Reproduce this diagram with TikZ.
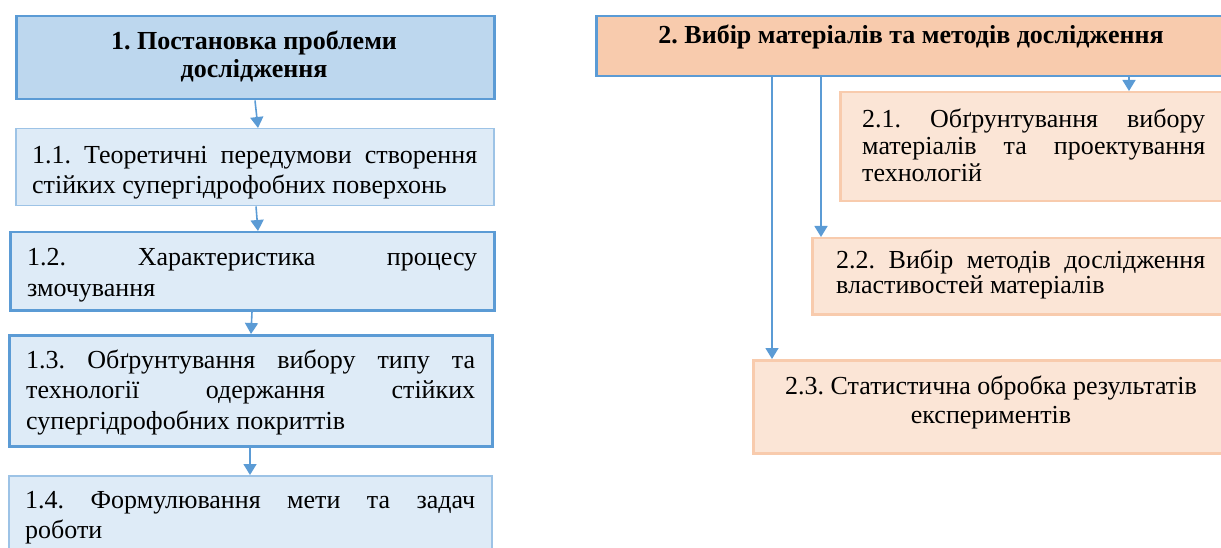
\documentclass[tikz,border=0pt]{standalone}
\usepackage{fontspec}
\setmainfont{Liberation Serif}
\usetikzlibrary{arrows.meta}
\definecolor{bluebd}{HTML}{5B9BD5}
\definecolor{bluelt}{HTML}{9DC3E6}
\definecolor{bluefillA}{HTML}{BDD7EE}
\definecolor{bluefillB}{HTML}{DEEBF7}
\definecolor{orfillA}{HTML}{F8CBAD}
\definecolor{orfillB}{HTML}{FBE5D6}
\definecolor{orbd}{HTML}{F8CBAD}
\tikzset{
  boxbase/.style={rectangle, inner sep=0pt, anchor=north west},
  headblue/.style={boxbase, fill=bluefillA, draw=bluebd, line width=2.5pt},
  subblueA/.style={boxbase, fill=bluefillB, draw=bluelt, line width=1.5pt},
  subblueB/.style={boxbase, fill=bluefillB, draw=bluebd, line width=2.5pt},
  heador/.style={boxbase, fill=orfillA, draw=bluebd, line width=2.5pt},
  subor/.style={boxbase, fill=orfillB, draw=orbd, line width=2.5pt},
  txt/.style={inner sep=0pt, align=left, anchor=base west, text=black},
  conn/.style={draw=bluebd, line width=1.6pt, -{Triangle[width=13pt,length=11pt]}},
}
\newcommand{\jl}[2]{\makebox[#1][s]{#2}}
\begin{document}
\frenchspacing
\begin{tikzpicture}[x=1pt,y=-1pt]
\useasboundingbox (0,0) rectangle (1221,548);
\clip (0,0) rectangle (1221,548);
% boxes
\node[headblue, minimum width=478pt, minimum height=83pt] (n1) at (15,15) {};
\node[subblueA, minimum width=478pt, minimum height=77pt] (n11) at (15,128) {};
\node[subblueB, minimum width=484pt, minimum height=78pt] (n12) at (9,231) {};
\node[subblueB, minimum width=483pt, minimum height=111pt] (n13) at (8,334) {};
\node[subblueA, minimum width=483pt, minimum height=90pt] (n14) at (8,475) {};
\node[heador, minimum width=650pt, minimum height=60pt] (n2) at (595,15) {};
\node[subor, minimum width=400pt, minimum height=109pt] (n21) at (839,91) {};
\node[subor, minimum width=430pt, minimum height=76pt] (n22) at (811,237) {};
\node[subor, minimum width=490pt, minimum height=93pt] (n23) at (752,359) {};
% texts (base anchor = baseline of last line)
\node[txt, align=center, anchor=base, font=\fontsize{26}{28}\selectfont\bfseries] (t1) at (254,78) {1. Постановка проблеми\\дослідження};
\node[txt, font=\fontsize{26}{30}\selectfont] (t11) at (32,194) {\jl{445pt}{1.1. Теоретичні передумови створення}\\стійких супергідрофобних поверхонь};
\node[txt, font=\fontsize{26}{31}\selectfont] (t12) at (27,296) {\jl{450pt}{1.2. Характеристика процесу}\\змочування};
\node[txt, font=\fontsize{26}{30.5}\selectfont] (t13) at (26,429) {\jl{449pt}{1.3. Обґрунтування вибору типу та}\\\jl{449pt}{технології одержання стійких}\\супергідрофобних покриттів};
\node[txt, font=\fontsize{26}{30}\selectfont] (t14) at (25,538) {\jl{450pt}{1.4. Формулювання мети та задач}\\роботи};
\node[txt, align=center, anchor=base, font=\fontsize{26}{28}\selectfont\bfseries] (t2) at (911,44) {2. Вибір матеріалів та методів дослідження};
\node[txt, font=\fontsize{26}{27}\selectfont] (t21) at (862,182) {\jl{343pt}{2.1. Обґрунтування вибору}\\\jl{343pt}{матеріалів та проектування}\\технологій};
\node[txt, font=\fontsize{26}{25}\selectfont] (t22) at (836,294) {\jl{369pt}{2.2. Вибір методів дослідження}\\властивостей матеріалів};
\node[txt, align=center, anchor=base, font=\fontsize{26}{29}\selectfont] (t23) at (991,423) {2.3. Статистична обробка результатів\\експериментів};
% connectors
\draw[conn] ([xshift=240pt]n1.south west) -- ([xshift=243pt]n11.north west);
\draw[conn] ([xshift=241pt]n11.south west) -- ([xshift=249pt]n12.north west);
\draw[conn] ([xshift=243pt]n12.south west) -- ([xshift=243pt]n13.north west);
\draw[conn] ([xshift=242pt]n13.south west) -- ([xshift=242pt]n14.north west);
\draw[conn] ([xshift=534pt]n2.south west) -- ([xshift=290pt]n21.north west);
\draw[conn] ([xshift=226pt]n2.south west) -- ([xshift=10pt]n22.north west);
\draw[conn] ([xshift=177pt]n2.south west) -- ([xshift=20pt]n23.north west);
\end{tikzpicture}
\end{document}
